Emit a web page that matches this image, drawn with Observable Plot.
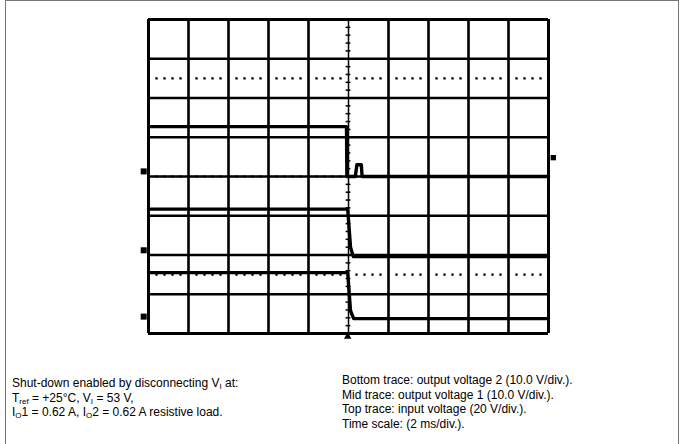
<!DOCTYPE html>
<html>
<head>
<meta charset="utf-8">
<script src="https://cdn.jsdelivr.net/npm/d3@7"></script>
<script src="https://cdn.jsdelivr.net/npm/@observablehq/plot@0.6"></script>
<style>
  html, body { margin: 0; padding: 0; background: #fff; }
  body { position: relative; width: 683px; height: 444px; overflow: hidden; font-family: "Liberation Sans", Arial, sans-serif; }
  #frame { position: absolute; left: 5px; top: 0; width: 674px; height: 460px; border: 1px solid #777; box-sizing: border-box; }
  #chart { position: absolute; left: 0; top: 0; }
  .cap { position: absolute; font-size: 12px; line-height: 14.5px; color: #000; white-space: nowrap; }
  .cap div { height: 14.5px; }
  .cap sub { font-size: 8px; vertical-align: -2px; line-height: 0; }
  #capL { left: 12px; top: 376px; }
  #capR { left: 342px; top: 373px; }
</style>
</head>
<body>
<div id="frame"></div>
<div id="chart"></div>
<div class="cap" id="capL"></div>
<div class="cap" id="capR"></div>
<script>
// Graticule (divisions): 10 horizontal x 8 vertical
const xDivs = [0, 1, 2, 3, 4, 5, 6, 7, 8, 9, 10];
const yDivs = [0, 1, 2, 3, 4, 5, 6, 7, 8];
const dottedRows = [1.5, 4, 6.5];

// Top trace: input voltage (20 V/div.)
const inputT = [0, 4.95, 4.96, 5.17, 5.21, 5.32, 5.34, 10];
const inputV = [5.27, 5.27, 4.0, 4.0, 4.3, 4.3, 4.0, 4.0];

// Mid trace: output voltage 1 (10.0 V/div.)
const out1T = [0, 4.98, 5.05, 5.12, 10];
const out1V = [3.17, 3.17, 2.2, 1.96, 1.96];

// Bottom trace: output voltage 2 (10.0 V/div.)
const out2T = [0, 4.98, 5.05, 5.13, 10];
const out2V = [1.55, 1.55, 0.58, 0.38, 0.38];

// Channel ground markers (left), trigger level (right), trigger position (bottom)
const chMarkY = [4.13, 2.12, 0.43];
const trigLevelY = [4.48];
const trigPosX = [4.98];

const leftLines = [
  "Shut-down enabled by disconnecting V<sub>I</sub> at:",
  "T<sub>ref</sub> = +25°C, V<sub>I</sub> = 53 V,",
  "I<sub>O</sub>1 = 0.62 A, I<sub>O</sub>2 = 0.62 A resistive load."
];
const rightLines = [
  "Bottom trace: output voltage 2 (10.0 V/div.).",
  "Mid trace: output voltage 1 (10.0 V/div.).",
  "Top trace: input voltage (20 V/div.).",
  "Time scale: (2 ms/div.)."
];

const toPts = (t, v) => t.map((d, i) => ({t: d, v: v[i]}));
const minorX = d3.range(1, 50).map(i => i / 5).filter(d => Math.abs(d - Math.round(d)) > 1e-6);
const minorY = d3.range(1, 40).map(i => i / 5);
const dotted = dottedRows.flatMap(y => minorX.map(x => ({x, y})));

const chart = Plot.plot({
  width: 683,
  height: 340,
  marginLeft: 148,
  marginRight: 135,
  marginTop: 19,
  marginBottom: 7,
  x: {domain: [0, 10], axis: null},
  y: {domain: [0, 8], axis: null},
  marks: [
    Plot.ruleX(xDivs.filter(d => d !== 5), {stroke: "black", strokeWidth: 2.6}),
    Plot.ruleX([5], {stroke: "black", strokeWidth: 1.5}),
    Plot.ruleY(yDivs, {stroke: "black", strokeWidth: 2.6}),
    Plot.ruleX([0, 10], {stroke: "black", strokeWidth: 3}),
    Plot.ruleY([0, 8], {stroke: "black", strokeWidth: 3}),
    Plot.ruleY(minorY, {y: d => d, x1: 4.94, x2: 5.06, stroke: "black", strokeWidth: 1.5}),
    Plot.dot(dotted, {x: "x", y: "y", r: 1.3, symbol: "square", fill: "black", stroke: null}),
    Plot.line(toPts(inputT, inputV), {x: "t", y: "v", stroke: "black", strokeWidth: 3.4}),
    Plot.line(toPts(out1T, out1V), {x: "t", y: "v", stroke: "black", strokeWidth: 3.4}),
    Plot.line(toPts(out2T, out2V), {x: "t", y: "v", stroke: "black", strokeWidth: 3.4}),
    Plot.dot(chMarkY, {x: -0.12, y: d => d, r: 3.4, symbol: "square", fill: "black", stroke: null}),
    Plot.dot(trigLevelY, {x: 10.12, y: d => d, r: 3, symbol: "square", fill: "black", stroke: null}),
    Plot.dot(trigPosX, {x: d => d, y: -0.08, r: 2.8, symbol: "triangle", fill: "black", stroke: null})
  ]
});
document.getElementById("chart").appendChild(chart);
document.getElementById("capL").innerHTML = leftLines.map(s => `<div>${s}</div>`).join("");
document.getElementById("capR").innerHTML = rightLines.map(s => `<div>${s}</div>`).join("");
</script>
</body>
</html>
